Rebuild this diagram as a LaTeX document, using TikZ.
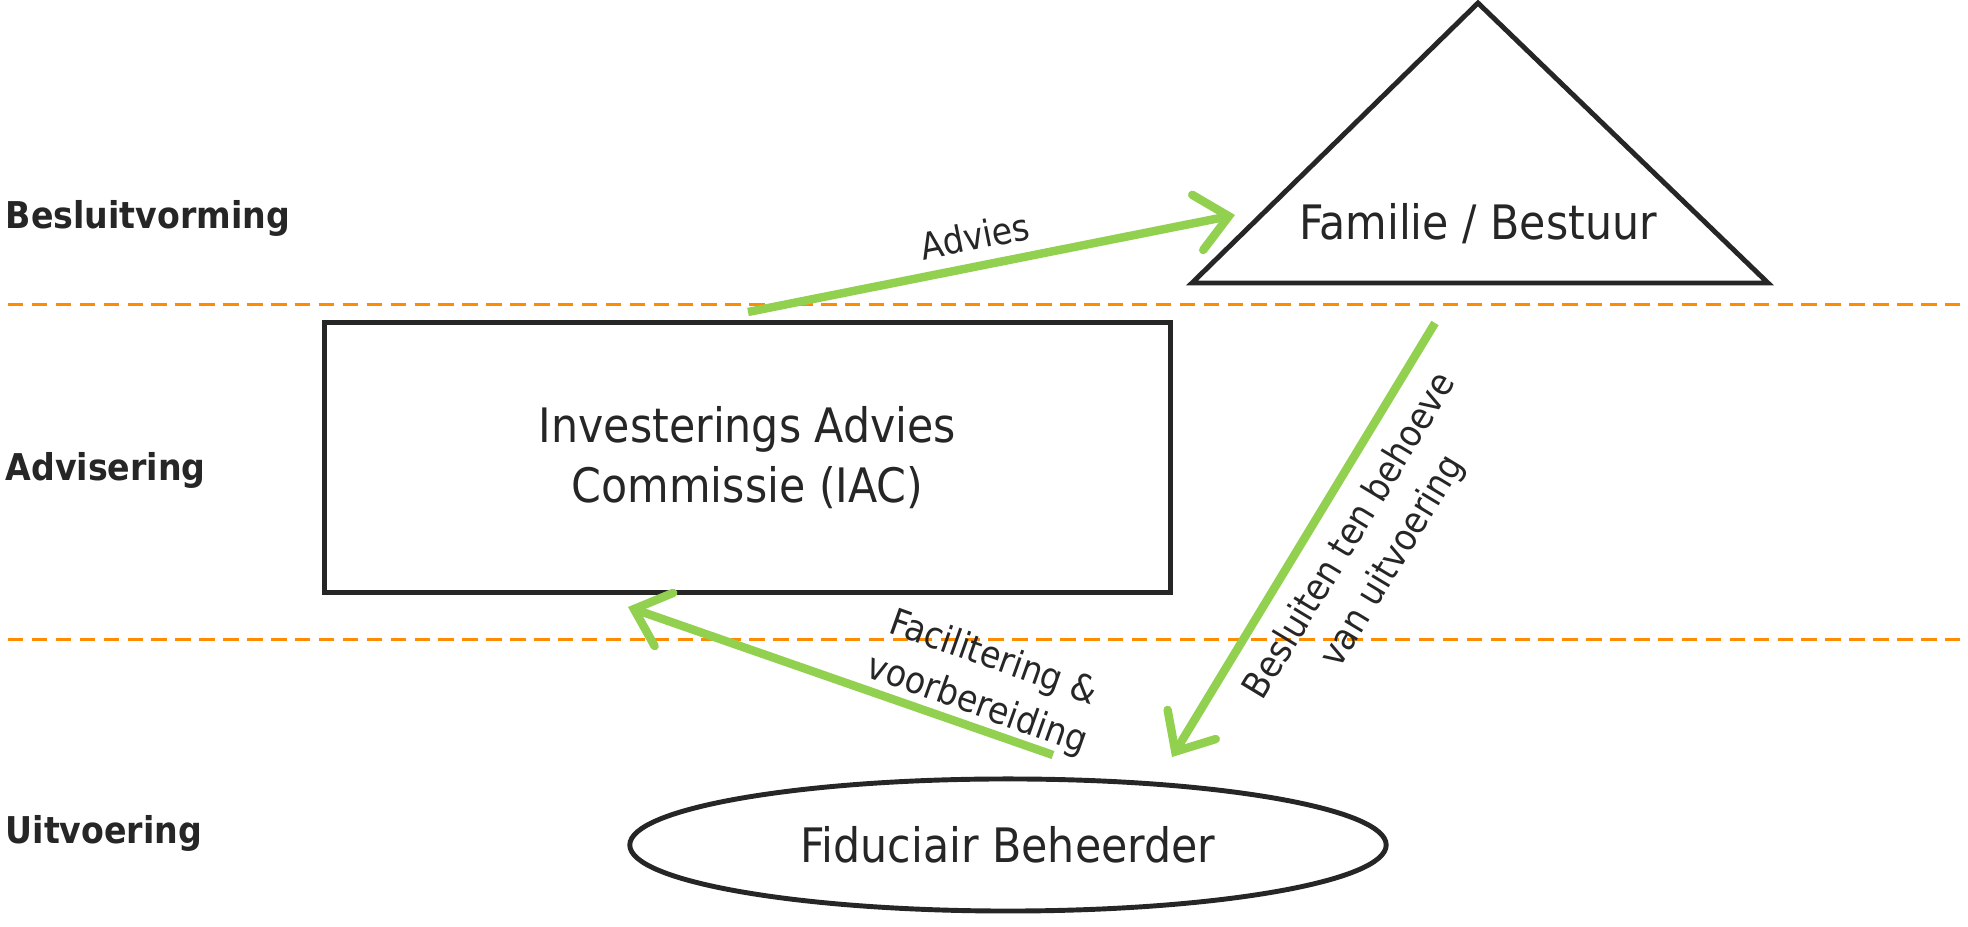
\documentclass[tikz,border=0pt]{standalone}
\usepackage{fontspec}
\setmainfont{DejaVu Sans Condensed}
\usetikzlibrary{arrows.meta,shapes.geometric}
\definecolor{txt}{HTML}{262626}
\definecolor{grn}{HTML}{92D050}
\definecolor{org}{HTML}{FF8C00}
\tikzset{
  shapeline/.style={draw=txt, line width=1.4pt},
  flow/.style={draw=grn, line width=2.4pt, -{Straight Barb[length=9pt,width=16pt,line cap=round]}},
  layer/.style={draw=org, line width=0.85pt, dash pattern=on 4.4pt off 2.4pt},
  lbl/.style={text=txt, font=\fontsize{10.5pt}{14pt}\selectfont, align=center, inner sep=0pt},
  mainlbl/.style={text=txt, font=\fontsize{13.5pt}{17pt}\selectfont, align=center},
  layerlbl/.style={text=txt, font=\fontsize{10.5pt}{12pt}\selectfont\bfseries, anchor=west, inner sep=0pt},
}
\begin{document}
\begin{tikzpicture}[x=0.01cm,y=0.01cm]
\useasboundingbox (0,0) rectangle (1968,927);
% layer separators
\coordinate (l1a) at (8,622); \coordinate (l1b) at (1968,622);
\coordinate (l2a) at (8,287); \coordinate (l2b) at (1968,287);
\draw[layer] (l1a) -- (l1b);
\draw[layer] (l2a) -- (l2b);
% layer labels
\node[layerlbl] (besl) at (5,709) {Besluitvorming};
\node[layerlbl] (advi) at (5,457) {Advisering};
\node[layerlbl] (uitv) at (5,94) {Uitvoering};
% triangle
\coordinate (tA) at (1478,924);
\coordinate (tL) at (1192,644);
\coordinate (tR) at (1768,644);
\draw[shapeline, line join=miter] (tA) -- (tL) -- (tR) -- cycle;
\node[mainlbl] (fam) at (1478,703) {Familie / Bestuur};
% rectangle
\node[shapeline, mainlbl, rectangle, minimum width=8.45cm, minimum height=2.69cm] (iac) at (747.5,469.5) {Investerings Advies\\Commissie (IAC)};
% ellipse
\node[shapeline, ellipse, minimum width=7.56cm, minimum height=1.32cm, mainlbl] (fid) at (1008,82) {Fiduciair Beheerder};
% arrows
\coordinate (a1s) at (748,615); \coordinate (a1e) at (1235,712);
\coordinate (a2s) at (1435,604); \coordinate (a2e) at (1172,170);
\coordinate (a3s) at (1053,172); \coordinate (a3e) at (628,320);
\draw[flow] (a1s) -- (a1e);
\draw[flow] (a2s) -- (a2e);
\draw[flow] (a3s) -- (a3e);
\node[lbl, rotate=11.3] (advlbl) at (975,691) {Advies};
\node[lbl, rotate=58.8] (beslbl) at (1372,378) {Besluiten ten behoeve\\van uitvoering};
\node[lbl, rotate=-19.6] (faclbl) at (985,245) {Facilitering \&\\voorbereiding};
\end{tikzpicture}
\end{document}
